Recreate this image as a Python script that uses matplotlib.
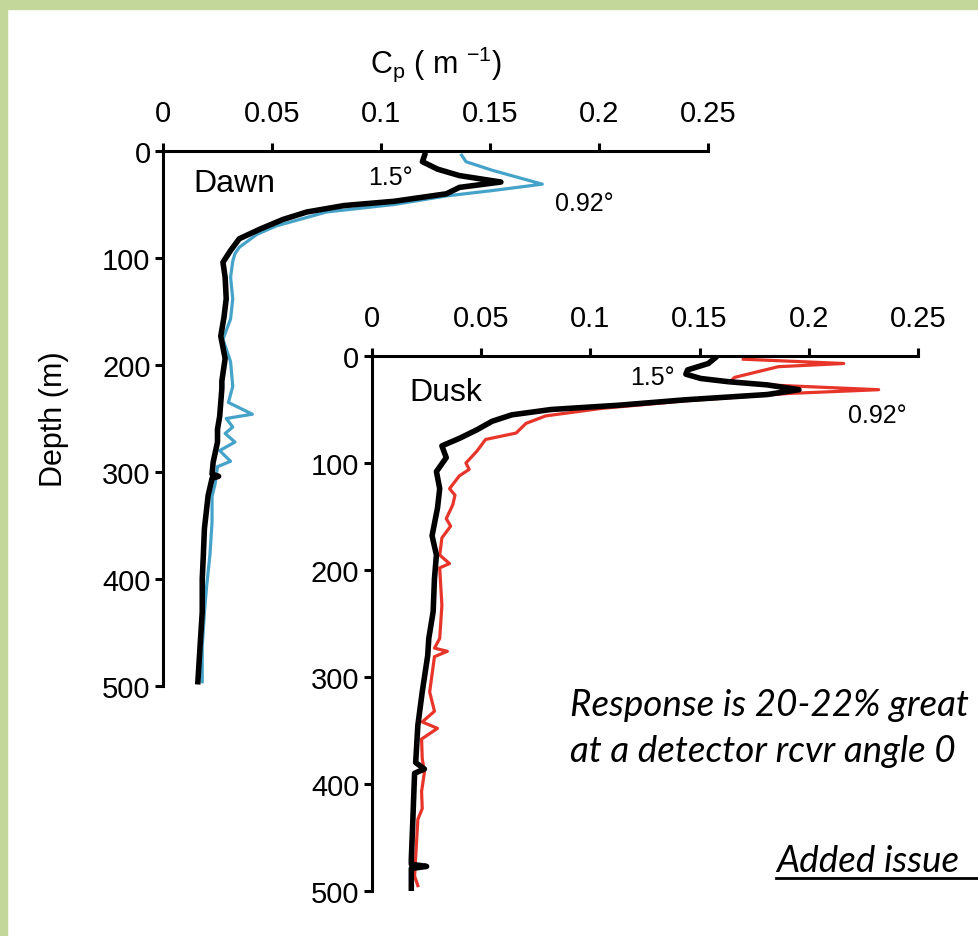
import matplotlib
matplotlib.use("Agg")
import matplotlib.pyplot as plt
from matplotlib.patches import Rectangle
from matplotlib.lines import Line2D

plt.rcParams['font.family'] = ['Liberation Sans', 'DejaVu Sans']

# ---- Dawn profiles (depth m, Cp m^-1)
dawn_k_depth = [4, 10, 17, 23, 29, 34, 40, 47, 51, 57, 64, 73, 82, 93, 104, 118,
                138, 155, 173, 194, 215, 222, 248, 260, 272, 291, 302, 304, 306,
                322, 353, 378, 400, 431, 463, 496]
dawn_k_cp = [0.120, 0.119, 0.126, 0.136, 0.155, 0.136, 0.130, 0.106, 0.083, 0.066,
             0.055, 0.0445, 0.035, 0.031, 0.0275, 0.0285, 0.029, 0.028, 0.0265,
             0.0285, 0.027, 0.027, 0.026, 0.025, 0.025, 0.023, 0.0225, 0.0255,
             0.0225, 0.0207, 0.019, 0.0185, 0.018, 0.018, 0.017, 0.016]
dawn_b_depth = [4, 10, 18, 31, 37, 42, 50, 57, 70, 78, 90, 96, 103, 118, 138, 157,
                176, 197, 220, 235, 246, 250, 258, 264, 272, 280, 290, 295, 310,
                323, 347, 378, 407, 431, 463, 496]
dawn_b_cp = [0.137, 0.139, 0.151, 0.174, 0.151, 0.130, 0.106, 0.075, 0.052, 0.043,
             0.035, 0.033, 0.032, 0.031, 0.032, 0.031, 0.0275, 0.031, 0.032, 0.030,
             0.041, 0.029, 0.032, 0.0285, 0.033, 0.026, 0.031, 0.025, 0.024,
             0.0225, 0.0225, 0.0215, 0.020, 0.019, 0.018, 0.018]

# ---- Dusk profiles
dusk_k_depth = [2, 7, 13, 17, 21, 24, 27, 31.5, 36, 41, 46, 50, 55, 61, 69, 77, 84,
                95, 108, 124, 142, 168, 186, 208, 239, 264, 280, 314, 345, 380,
                386, 390, 439, 470, 475, 477, 479, 498]
dusk_k_cp = [0.157, 0.154, 0.1445, 0.1437, 0.1505, 0.163, 0.181, 0.1955, 0.181,
             0.143, 0.113, 0.082, 0.064, 0.055, 0.048, 0.040, 0.032, 0.034, 0.0295,
             0.031, 0.030, 0.0275, 0.0295, 0.0286, 0.028, 0.026, 0.0255, 0.023,
             0.021, 0.020, 0.024, 0.0195, 0.0186, 0.018, 0.018, 0.025, 0.018, 0.018]
dusk_r_depth = [3, 7, 10, 20, 24, 27, 31.5, 35, 42, 49, 56, 63, 72, 78, 89, 100, 106,
                112, 124, 130, 139, 152, 159, 170, 186, 194, 198, 233, 264, 273,
                276, 281, 314, 332, 342, 348, 358, 376, 389, 407, 423, 433, 454,
                486, 495]
dusk_r_cp = [0.170, 0.216, 0.186, 0.166, 0.164, 0.181, 0.232, 0.191, 0.143, 0.105,
             0.0795, 0.0705, 0.066, 0.052, 0.048, 0.043, 0.0445, 0.040, 0.0355,
             0.038, 0.037, 0.034, 0.036, 0.032, 0.031, 0.0355, 0.031, 0.032, 0.031,
             0.0286, 0.0345, 0.0286, 0.0264, 0.0286, 0.023, 0.030, 0.0227, 0.023,
             0.024, 0.0227, 0.023, 0.021, 0.0204, 0.0195, 0.021]

x_ticks = [0, 0.05, 0.1, 0.15, 0.2, 0.25]
x_labels = ['0', '0.05', '0.1', '0.15', '0.2', '0.25']
y_ticks = [0, 100, 200, 300, 400, 500]

W, H = 979, 937
fig = plt.figure(figsize=(W / 100, H / 100), dpi=100)

# green frame on top / left edge
green = '#c4d79b'
fig.add_artist(Rectangle((0, 1 - 10 / H), 1, 10 / H, transform=fig.transFigure,
                         color=green, zorder=0))
fig.add_artist(Rectangle((0, 0), 7 / W, 1, transform=fig.transFigure,
                         color=green, zorder=0))


def style(ax):
    ax.set_xlim(0, 0.25)
    ax.set_ylim(500, 0)
    ax.xaxis.tick_top()
    ax.set_xticks(x_ticks)
    ax.set_xticklabels(x_labels)
    ax.set_yticks(y_ticks)
    for s in ['right', 'bottom']:
        ax.spines[s].set_visible(False)
    for s in ['left', 'top']:
        ax.spines[s].set_linewidth(2.2)
    ax.tick_params(axis='both', direction='out', length=6, width=2.2,
                   labelsize=21)
    ax.tick_params(axis='x', pad=11)
    ax.tick_params(axis='y', pad=3)
    ax.patch.set_visible(False)


ax1 = fig.add_axes([163 / W, 1 - 687 / H, 545 / W, 535 / H])
style(ax1)
ax1.plot(dawn_b_cp, dawn_b_depth, color='#45a3c9', lw=2.3, zorder=2)
ax1.plot(dawn_k_cp, dawn_k_depth, color='black', lw=4.0, zorder=3)
ax1.xaxis.set_label_position('top')
ax1.set_xlabel(r'C$_\mathregular{p}$ ( m $^\mathregular{-1}$)', fontsize=22,
               labelpad=20)
ax1.set_ylabel('Depth (m)', fontsize=22, labelpad=24)
ax1.text(0.014, 30, 'Dawn', fontsize=23, va='center')
ax1.text(0.094, 24, '1.5°', fontsize=18, va='center')
ax1.text(0.180, 49, '0.92°', fontsize=18, va='center')

ax2 = fig.add_axes([372 / W, 1 - 892 / H, 546 / W, 535 / H])
ax2.set_zorder(3)
style(ax2)
ax2.plot(dusk_r_cp, dusk_r_depth, color='#e8352a', lw=2.3, zorder=2)
ax2.plot(dusk_k_cp, dusk_k_depth, color='black', lw=4.0, zorder=3)
ax2.text(0.017, 34, 'Dusk', fontsize=23, va='center')
ax2.text(0.118, 20, '1.5°', fontsize=18, va='center')
ax2.text(0.218, 55, '0.92°', fontsize=18, va='center')

note_font = dict(family=['Lato', 'DejaVu Sans'], style='italic', fontsize=26.5)
fig.text(570 / W, 1 - 716 / H, 'Response is 20-22% great', **note_font)
fig.text(570 / W, 1 - 762 / H, 'at a detector rcvr angle 0', **note_font)
t = fig.text(776 / W, 1 - 872 / H, 'Added issue', **note_font)

fig.canvas.draw()
bb = t.get_window_extent(fig.canvas.get_renderer())
fig.add_artist(Line2D([bb.x0 / W, 1.0], [(H - 879) / H] * 2,
                      transform=fig.transFigure, color='black', lw=2))

fig.savefig('out.png', dpi=100)
